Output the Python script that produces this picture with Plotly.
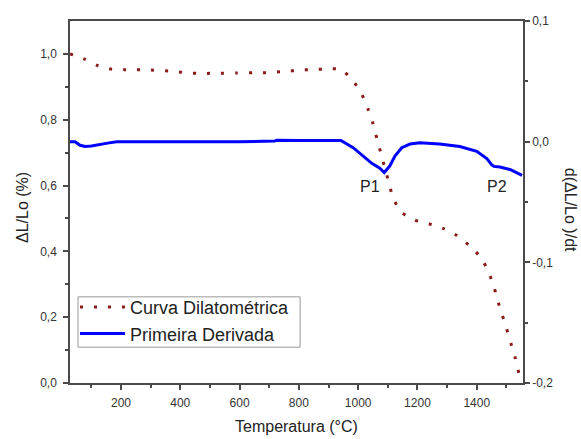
import plotly.graph_objects as go

# Dilatometric curve (left axis, %)
dil_T = [28, 75, 123, 170, 230, 300, 360, 405, 455, 520, 590, 650, 692, 753, 800,
         848, 895, 942, 983, 1013, 1033, 1050, 1063, 1077, 1090, 1104, 1118, 1147,
         1191, 1238, 1286, 1333, 1377, 1417, 1441, 1455, 1468, 1484, 1500, 1515,
         1529, 1542, 1555]
dil_v = [1.0, 0.985, 0.964, 0.953, 0.952, 0.951, 0.948, 0.944, 0.941, 0.941, 0.942,
         0.943, 0.943, 0.947, 0.950, 0.953, 0.954, 0.953, 0.918, 0.876, 0.833, 0.788,
         0.743, 0.697, 0.653, 0.608, 0.561, 0.518, 0.495, 0.484, 0.470, 0.448, 0.416,
         0.378, 0.333, 0.303, 0.258, 0.212, 0.167, 0.121, 0.079, 0.030, 0.0]

# First derivative (right axis)
der_T = [28, 45, 62, 79, 100, 129, 160, 186, 250, 298, 400, 466, 600, 719, 725, 803,
         900, 942, 983, 1016, 1046, 1073, 1088, 1107, 1124, 1147, 1175, 1208, 1240,
         1275, 1343, 1400, 1434, 1450, 1458, 1478, 1512, 1553]
der_v = [0.0, 0.0, -0.003, -0.004, -0.0035, -0.002, -0.001, 0.0, 0.0, -0.0005,
         -0.0003, 0.0, 0.0, 0.0005, 0.0012, 0.001, 0.001, 0.001, -0.005, -0.012,
         -0.018, -0.022, -0.0256, -0.020, -0.012, -0.005, -0.002, -0.001, -0.0012,
         -0.002, -0.004, -0.008, -0.014, -0.019, -0.0205, -0.021, -0.023, -0.028]

peak_labels = ["P1", "P2"]
peak_T = [1040, 1468]
peak_y = [-0.037, -0.037]

FONT = "Liberation Sans, Arial, sans-serif"
AX = "#4a4a4a"

fig = go.Figure()
fig.add_trace(go.Scatter(x=dil_T, y=dil_v, mode="lines", name="Curva Dilatométrica",
                         line=dict(color="#8B1A1A", width=3, dash="3px,11px",
                                   shape="spline", smoothing=0.6)))
fig.add_trace(go.Scatter(x=der_T, y=der_v, mode="lines", name="Primeira Derivada",
                         yaxis="y2", line=dict(color="#0000FF", width=3)))

for lab, t, v in zip(peak_labels, peak_T, peak_y):
    fig.add_annotation(x=t, y=v, xref="x", yref="y2", text=lab, showarrow=False,
                       xanchor="center", yanchor="middle",
                       font=dict(size=16, color="#222", family=FONT))

fig.add_annotation(x=-0.106, y=0.486, xref="paper", yref="paper", text="ΔL/Lo (%)",
                   xanchor="center", yanchor="middle",
                   textangle=-90, showarrow=False, font=dict(size=16, color="#222", family=FONT))
fig.add_annotation(x=1.104, y=0.478, xref="paper", yref="paper", text="d(ΔL/Lo )/dt",
                   xanchor="center", yanchor="middle",
                   textangle=90, showarrow=False, font=dict(size=16, color="#222", family=FONT))
fig.add_annotation(x=0.501, y=-0.119, xref="paper", yref="paper", text="Temperatura (°C)",
                   xanchor="center", yanchor="middle",
                   showarrow=False, font=dict(size=16, color="#222", family=FONT))

# legend frame
fig.add_shape(type="rect", xref="paper", yref="paper", x0=0.0177, x1=0.508,
              y0=0.099, y1=0.238, line=dict(color="#999", width=1), fillcolor="white",
              layer="below")

fig.update_layout(
    width=581, height=439,
    margin=dict(l=70, r=58, t=21, b=56),
    paper_bgcolor="white", plot_bgcolor="white",
    separators=",.",
    font=dict(family=FONT, size=12, color="#333"),
    showlegend=True,
    legend=dict(x=0.011, y=0.26, xanchor="left", yanchor="top",
                bgcolor="rgba(0,0,0,0)", borderwidth=0,
                font=dict(size=18, color="#222", family=FONT),
                itemwidth=45, tracegroupgap=0),
    xaxis=dict(range=[28, 1556], showline=True, linecolor=AX, linewidth=1.5, mirror=True,
               showgrid=False, zeroline=False, ticks="outside", ticklen=5, tickcolor=AX,
               tickwidth=1.5, ticklabelstandoff=3,
               tickvals=[200, 400, 600, 800, 1000, 1200, 1400],
               minor=dict(ticks="outside", ticklen=3, tickcolor=AX, tickwidth=1.5,
                          tickvals=[100, 300, 500, 700, 900, 1100, 1300, 1500])),
    yaxis=dict(range=[0, 1.1], showline=True, linecolor=AX, linewidth=1.5,
               showgrid=False, zeroline=False, ticks="outside", ticklen=5, tickcolor=AX,
               tickwidth=1.5, ticklabelstandoff=4,
               tickvals=[0, 0.2, 0.4, 0.6, 0.8, 1.0], tickformat=".1f",
               minor=dict(ticks="outside", ticklen=3, tickcolor=AX, tickwidth=1.5,
                          tickvals=[0.1, 0.3, 0.5, 0.7, 0.9])),
    yaxis2=dict(range=[-0.2, 0.1], overlaying="y", side="right", showline=True,
                linecolor=AX, linewidth=1.5, showgrid=False, zeroline=False,
                ticks="outside", ticklen=5, tickcolor=AX, tickwidth=1.5,
                tickvals=[-0.2, -0.1, 0.0, 0.1], ticktext=["-0,2", "-0,1", "0,0", "0,1"],
                minor=dict(ticks="outside", ticklen=3, tickcolor=AX, tickwidth=1.5,
                           tickvals=[-0.15, -0.05, 0.05])),
)

fig.write_html(
    "out.html",
    config={"displayModeBar": False},
    post_script=("document.documentElement.style.overflow='hidden';"
                 "document.body.style.overflow='hidden';"
                 "document.body.style.margin='0';"),
)
